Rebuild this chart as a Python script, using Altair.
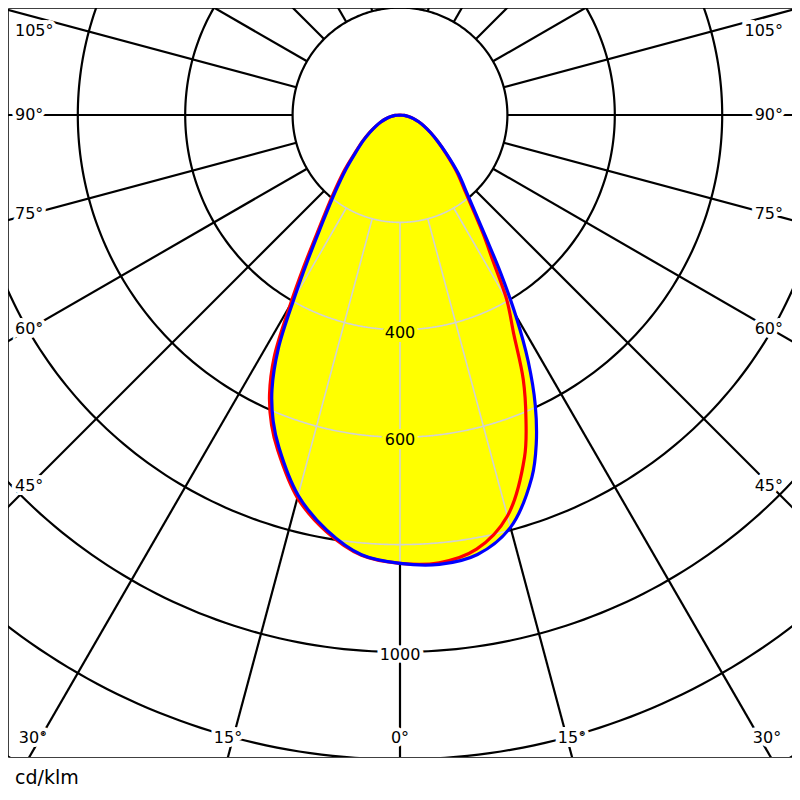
import altair as alt
import numpy as np
import pandas as pd

# ---------------- data ----------------
# gamma angle (deg from nadir) and luminous intensity (cd/klm)
ANGLES = [0, 5, 10, 15, 20, 22.5, 25, 27.5, 30, 32.5, 35, 40, 45, 50, 55, 60, 65, 70, 75, 80, 85, 90]
BLUE_LEFT = [835, 822, 785, 733, 659, 617, 564, 491, 394, 318, 261, 189, 142, 107, 84, 65, 50, 38, 27, 17, 9, 0]
BLUE_RIGHT = [835, 840, 831, 795, 718, 663, 596, 517, 431, 349, 280, 198, 153, 114, 86, 66, 50, 37, 26, 16, 8, 0]
RED_LEFT = [835, 823, 788, 738, 665, 625, 575, 507, 410, 331, 270, 195, 147, 109, 85, 66, 50, 38, 27, 17, 9, 0]
RED_RIGHT = [835, 837, 821, 773, 678, 613, 543, 458, 398, 322, 270, 192, 149, 112, 86, 66, 50, 37, 26, 16, 8, 0]

RINGS = [200, 400, 600, 800, 1000, 1200, 1400]
RING_LABELS = [400, 600, 1000]
SPOKE_STEP = 15
SIDE_LABELS = [105, 90, 75, 60, 45]
BOTTOM_LABELS = [30, 15, 0]
UNIT = "cd/klm"

# ---------------- layout ----------------
PX = 0.537          # pixels per cd
W, H = 784, 749     # plot area
CX, CY = 392, 107   # pole position inside plot area (px)
XMIN, XMAX = -CX / PX, (W - CX) / PX
YMIN, YMAX = -(H - CY) / PX, CY / PX
FONT = "DejaVu Sans"
FS = 16


def sind(a):
    return np.sin(np.radians(a))


def cosd(a):
    return np.cos(np.radians(a))


FILL_LEFT = np.maximum(BLUE_LEFT, RED_LEFT)
FILL_RIGHT = np.maximum(BLUE_RIGHT, RED_RIGHT)


def ifill(phi):
    a = abs(phi)
    if a > 90:
        return 0.0
    arr = FILL_LEFT if phi < 0 else FILL_RIGHT
    return float(np.interp(a, ANGLES, arr))


def curve_df(left, right, name):
    rows = []
    k = 0
    for a, v in zip(ANGLES[::-1], left[::-1]):
        rows.append(dict(g=name, k=k, x=v * sind(-a), y=-v * cosd(-a)))
        k += 1
    for a, v in list(zip(ANGLES, right))[1:]:
        rows.append(dict(g=name, k=k, x=v * sind(a), y=-v * cosd(a)))
        k += 1
    return pd.DataFrame(rows)


xs = alt.Scale(domain=[XMIN, XMAX], nice=False, zero=False)
ys = alt.Scale(domain=[YMIN, YMAX], nice=False, zero=False)
X = alt.X("x:Q", scale=xs, axis=None)
Y = alt.Y("y:Q", scale=ys, axis=None)

# black grid
phis = np.arange(-180, 180.001, 1.0)
ring_rows = []
for R in RINGS:
    for i, p in enumerate(phis):
        ring_rows.append(dict(g=f"r{R}", k=i, x=R * sind(p), y=-R * cosd(p)))
spoke_rows = []
for a in range(-180, 180, SPOKE_STEP):
    for k, r in enumerate([RINGS[0], 3000]):
        spoke_rows.append(dict(g=f"s{a}", k=k, x=r * sind(a), y=-r * cosd(a)))

black_rings = alt.Chart(pd.DataFrame(ring_rows)).mark_line(
    color="black", strokeWidth=2.2, clip=True).encode(X, Y, detail="g:N", order="k:Q")
black_spokes = alt.Chart(pd.DataFrame(spoke_rows)).mark_line(
    color="black", strokeWidth=2.2, clip=True).encode(X, Y, detail="g:N", order="k:Q")

# fill
fill_df = curve_df(list(FILL_LEFT), list(FILL_RIGHT), "fill")
fill = alt.Chart(fill_df).mark_line(
    fill="#ffff00", stroke="#ffff00", strokeWidth=1, interpolate="catmull-rom", clip=True
).encode(X, Y, order="k:Q")

# gray grid inside the fill
fine = np.arange(-180, 180.001, 0.25)
g_rows = []
for R in RINGS:
    seg = 0
    prev = False
    for i, p in enumerate(fine):
        inside = R < ifill(p)
        if inside:
            if not prev:
                seg += 1
            g_rows.append(dict(g=f"r{R}_{seg}", k=i, x=R * sind(p), y=-R * cosd(p)))
        prev = inside
for a in range(-180, 180, SPOKE_STEP):
    rmax = ifill(a)
    if rmax > RINGS[0]:
        for k, r in enumerate([RINGS[0], rmax]):
            g_rows.append(dict(g=f"s{a}", k=k, x=r * sind(a), y=-r * cosd(a)))
gray = alt.Chart(pd.DataFrame(g_rows)).mark_line(
    color="#d2d2d2", strokeWidth=1.6, clip=True).encode(X, Y, detail="g:N", order="k:Q")

red = alt.Chart(curve_df(RED_LEFT, RED_RIGHT, "red")).mark_line(
    color="#ff0000", strokeWidth=3.2, interpolate="catmull-rom", clip=True).encode(X, Y, order="k:Q")
blue = alt.Chart(curve_df(BLUE_LEFT, BLUE_RIGHT, "blue")).mark_line(
    color="#0000ff", strokeWidth=3.2, interpolate="catmull-rom", clip=True).encode(X, Y, order="k:Q")

# labels
left_rows, right_rows, center_rows = [], [], []
for a in SIDE_LABELS:
    yrel = (CX - 21) / np.tan(np.radians(a))
    yrel = max(yrel, -(CY - 23))
    yd = -yrel / PX
    left_rows.append(dict(x=-(CX - 7) / PX, y=yd, t=f"{a}°", bg="white"))
    right_rows.append(dict(x=(W - 9 - CX) / PX, y=yd, t=f"{a}°", bg="white"))
for a in BOTTOM_LABELS:
    xrel = min((H - CY) * np.tan(np.radians(a)), CX - 25)
    yd = -(730 - CY) / PX
    center_rows.append(dict(x=-xrel / PX, y=yd, t=f"{a}°", bg="white"))
    if a != 0:
        center_rows.append(dict(x=xrel / PX, y=yd, t=f"{a}°", bg="white"))
for R in RING_LABELS:
    center_rows.append(dict(x=0.0, y=-R - 3 / PX, t=str(R),
                            bg="#ffff00" if R < ifill(0) else "white"))


def text_layers(rows, align):
    base = alt.Chart(pd.DataFrame(rows))
    halo = base.mark_text(align=align, baseline="middle", font=FONT, fontSize=FS,
                          strokeWidth=8).encode(
        X, Y, text="t:N",
        color=alt.Color("bg:N", scale=None),
        stroke=alt.Stroke("bg:N", scale=None))
    txt = base.mark_text(align=align, baseline="middle", font=FONT, fontSize=FS,
                         color="black").encode(X, Y, text="t:N")
    return [halo, txt]


layers = [black_rings, black_spokes, fill, gray, red, blue]
layers += text_layers(left_rows, "left")
layers += text_layers(right_rows, "right")
layers += text_layers(center_rows, "center")

chart = alt.layer(*layers).properties(
    width=W, height=H,
    padding={"left": 0, "top": 0, "right": 0, "bottom": 0},
    title=alt.Title(UNIT, orient="bottom", anchor="start", fontSize=19, font=FONT,
                    fontWeight="normal", color="black", offset=12, dx=7),
).configure_view(stroke="#404040", strokeWidth=1)

chart.save("out.html", embed_options={"renderer": "svg", "actions": False})
